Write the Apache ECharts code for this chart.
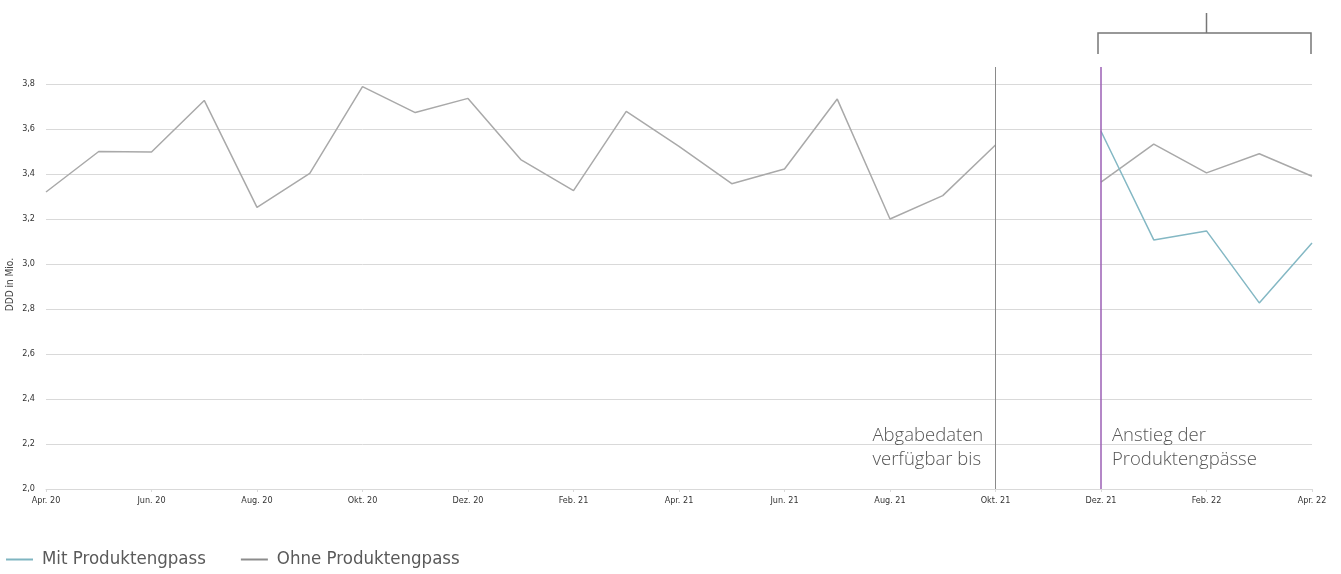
<!DOCTYPE html>
<html><head><meta charset="utf-8">
<script src="https://cdn.jsdelivr.net/npm/echarts@6/dist/echarts.min.js"></script>
<style>html,body{margin:0;padding:0;background:#fff}#c{width:1341px;height:574px}</style>
</head><body><div id="c"></div>
<script>
const months = ["Apr. 20","Mai 20","Jun. 20","Jul. 20","Aug. 20","Sep. 20","Okt. 20","Nov. 20","Dez. 20","Jan. 21","Feb. 21","Mär. 21","Apr. 21","Mai 21","Jun. 21","Jul. 21","Aug. 21","Sep. 21","Okt. 21","Nov. 21","Dez. 21","Jan. 22","Feb. 22","Mär. 22","Apr. 22"];
const ohneProduktengpass = [3.32,3.50,3.498,3.727,3.252,3.403,3.788,3.673,3.736,3.464,3.326,3.678,3.523,3.357,3.422,3.733,3.20,3.304,3.529,null,3.364,3.533,3.405,3.49,3.39];
const mitProduktengpass = [null,null,null,null,null,null,null,null,null,null,null,null,null,null,null,null,null,null,null,null,3.59,3.107,3.147,2.827,3.093];
const yMin = 2.0, yMax = 3.8, yStep = 0.2;
const markerDataEnd = "Okt. 21";
const markerShortage = "Dez. 21";
const labelDataEnd = ["Abgabedaten","verfügbar bis"];
const labelShortage = ["Anstieg der","Produktengpässe"];

const FONT = '"Liberation Sans Narrow","DejaVu Sans Condensed",sans-serif';
const chart = echarts.init(document.getElementById('c'));
const gridPos = {left:46, right:29, bottom:85};
chart.setOption({
  animation:false,
  grid:[Object.assign({top:84},gridPos), Object.assign({top:67},gridPos)],
  legend:{
    left:1, bottom:0, itemWidth:27, itemHeight:2, itemGap:35, icon:'rect',
    data:['Mit Produktengpass','Ohne Produktengpass'],
    textStyle:{fontFamily:FONT, fontSize:18.5, color:'#5a5a5a', padding:[0,0,0,4]}
  },
  xAxis:[{
    type:'category', data:months, boundaryGap:false, gridIndex:0,
    axisLine:{lineStyle:{color:'#d9d9d9'}},
    axisTick:{show:true, interval:1, length:3, lineStyle:{color:'#d9d9d9'}},
    axisLabel:{interval:1, fontFamily:FONT, fontSize:9, color:'#333', margin:7}
  },{
    type:'category', data:months, boundaryGap:false, gridIndex:1, show:false
  }],
  yAxis:[{
    type:'value', min:yMin, max:yMax, interval:yStep, gridIndex:0,
    axisLine:{show:false}, axisTick:{show:false},
    splitLine:{lineStyle:{color:'#d9d9d9'}},
    axisLabel:{fontFamily:FONT, fontSize:9, color:'#333', margin:11,
      formatter:v=>v.toFixed(1).replace('.',',')}
  },{
    type:'value', min:0, max:1, gridIndex:1, show:false
  }],
  series:[{
    name:'Mit Produktengpass', type:'line', data:mitProduktengpass, showSymbol:false,
    lineStyle:{color:'#84b8c4', width:1.5}, itemStyle:{color:'#7fb5c1'}, z:3
  },{
    name:'Ohne Produktengpass', type:'line', data:ohneProduktengpass, showSymbol:false,
    connectNulls:false,
    lineStyle:{color:'#a9a9a9', width:1.5}, itemStyle:{color:'#8c8c8c'}, z:2
  },{
    type:'line', xAxisIndex:1, yAxisIndex:1, data:months.map(()=>null), silent:true,
    markLine:{symbol:'none', silent:true, label:{show:false},
      data:[
        {xAxis:markerDataEnd, lineStyle:{color:'#8a8a8a', width:1, type:'solid'}},
        {xAxis:markerShortage, lineStyle:{color:'#9b5fb5', width:1.5, type:'solid'}}
      ]}
  }]
});

function place(){
  const xA = chart.convertToPixel({xAxisIndex:0}, markerDataEnd);
  const xB = chart.convertToPixel({xAxisIndex:0}, markerShortage);
  const xEnd = chart.convertToPixel({xAxisIndex:0}, months[months.length-1]);
  const mid = (xB + xEnd)/2;
  const tStyle = {fontFamily:'"Open Sans","Noto Sans",sans-serif', fontWeight:300, fontSize:18.5, fill:'#555', lineHeight:24};
  chart.setOption({graphic:[
    {type:'text', left:xA-123, top:424, style:Object.assign({text:labelDataEnd.join('\n')}, tStyle)},
    {type:'text', left:xB+11, top:424, style:Object.assign({text:labelShortage.join('\n')}, tStyle)},
    {type:'polyline', shape:{points:[[xB-3,54],[xB-3,33],[xEnd-1,33],[xEnd-1,54]]}, style:{stroke:'#777', lineWidth:1.5, fill:null}},
    {type:'line', shape:{x1:mid,y1:13,x2:mid,y2:33}, style:{stroke:'#777', lineWidth:1.5}},
    {type:'text', left:5, top:258, rotation:Math.PI/2, style:{text:'DDD in Mio.', fontFamily:FONT, fontSize:10, fill:'#444', align:'center', verticalAlign:'middle'}}
  ]});
}
place();
</script>
</body></html>
